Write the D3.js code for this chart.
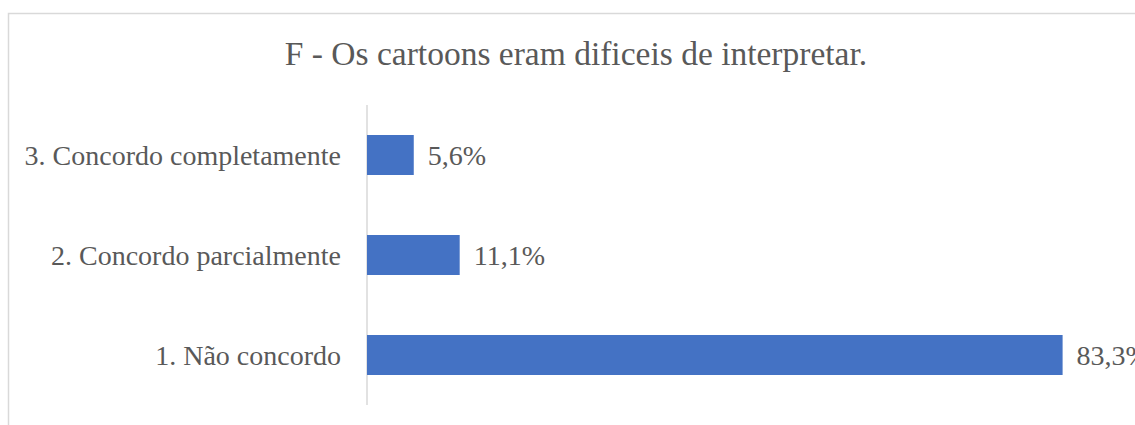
<!DOCTYPE html>
<html>
<head>
<meta charset="utf-8">
<script src="https://cdn.jsdelivr.net/npm/d3@7"></script>
<style>
  html, body { margin: 0; padding: 0; background: #fff; overflow: hidden; }
  svg { display: block; }
  text { font-family: "Liberation Serif", "Times New Roman", serif; fill: #595959; }
</style>
</head>
<body>
<svg id="chart" width="1135" height="425"></svg>
<script>
// Survey answers, bottom-to-top as they appear on the chart
const categories = ["1. Não concordo", "2. Concordo parcialmente", "3. Concordo completamente"];
const values = [83.3, 11.1, 5.6];
const valueLabels = ["83,3%", "11,1%", "5,6%"];
const title = "F - Os cartoons eram dificeis de interpretar.";

const W = 1135, H = 425;
const svg = d3.select("#chart");

// chart frame
svg.append("rect")
  .attr("x", 8.5).attr("y", 13.5)
  .attr("width", W + 10).attr("height", H + 10)
  .attr("fill", "#fff")
  .attr("stroke", "#d9d9d9").attr("stroke-width", 1.5);

const x0 = 367;
const x = d3.scaleLinear().domain([0, 83.3]).range([x0, 1062.6]);

const y = d3.scaleBand()
  .domain(categories.slice().reverse())
  .range([105, 405])
  .paddingInner(0.6)
  .paddingOuter(0.3);

// title
svg.append("text")
  .attr("x", 576).attr("y", 65)
  .attr("text-anchor", "middle")
  .style("font-size", "33.5px")
  .text(title);

// category axis line
svg.append("line")
  .attr("x1", x0).attr("x2", x0)
  .attr("y1", 105).attr("y2", 405)
  .attr("stroke", "#d9d9d9").attr("stroke-width", 1.5);

const rows = categories.map((c, i) => ({ c, v: values[i], label: valueLabels[i] }));

svg.selectAll("rect.bar")
  .data(rows)
  .join("rect")
  .attr("class", "bar")
  .attr("x", x(0))
  .attr("y", d => y(d.c))
  .attr("width", d => x(d.v) - x(0))
  .attr("height", y.bandwidth())
  .attr("fill", "#4472c4");

svg.selectAll("text.cat")
  .data(rows)
  .join("text")
  .attr("class", "cat")
  .attr("x", x0 - 26)
  .attr("y", d => y(d.c) + y.bandwidth() / 2)
  .attr("dy", "0.35em")
  .attr("text-anchor", "end")
  .style("font-size", "28px")
  .text(d => d.c);

svg.selectAll("text.val")
  .data(rows)
  .join("text")
  .attr("class", "val")
  .attr("x", d => x(d.v) + 14)
  .attr("y", d => y(d.c) + y.bandwidth() / 2)
  .attr("dy", "0.35em")
  .style("font-size", "28px")
  .text(d => d.label);
</script>
</body>
</html>
